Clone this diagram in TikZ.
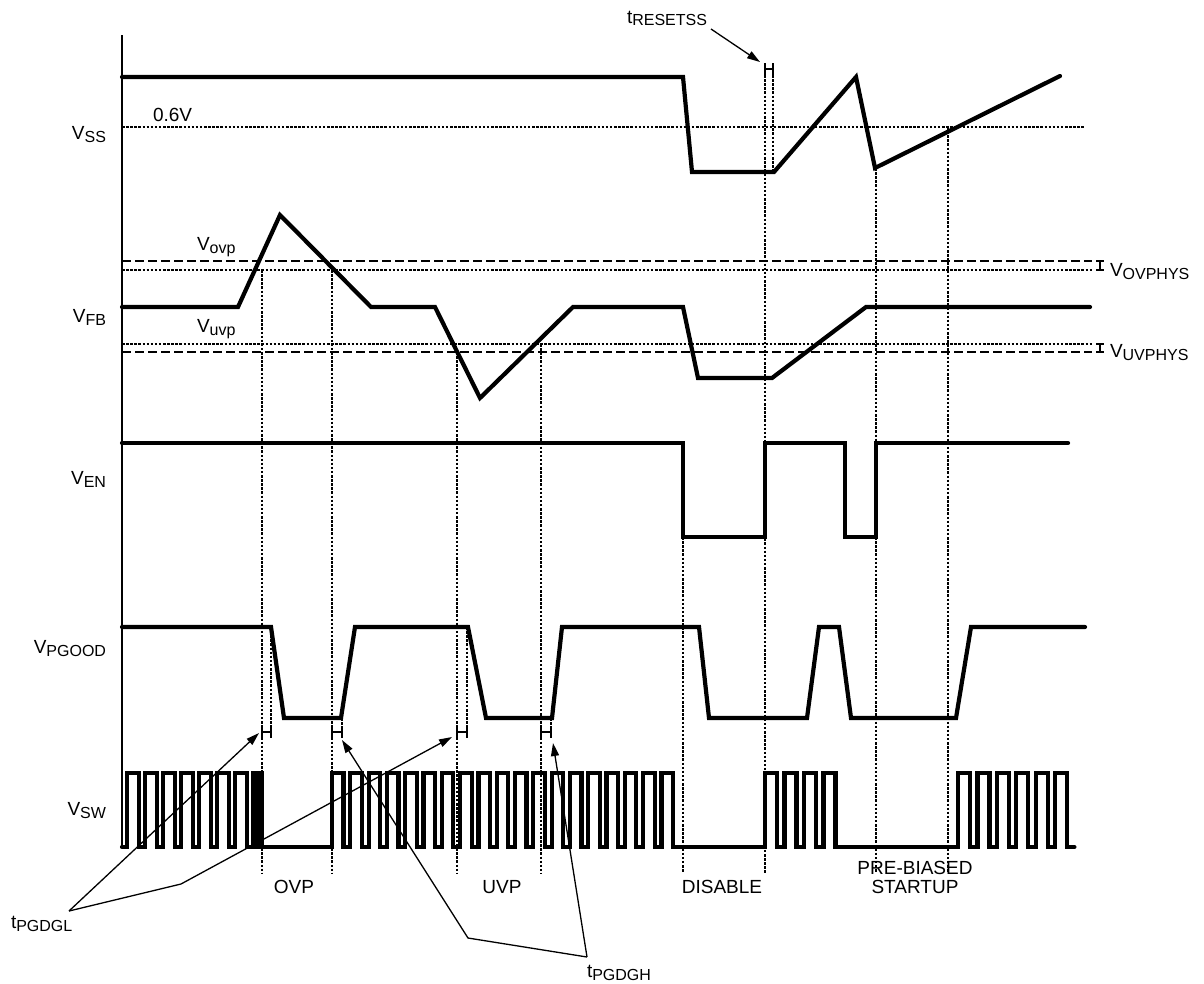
\documentclass[tikz,border=0pt]{standalone}
\usepackage{fontspec}
\setmainfont{Liberation Sans}
\usetikzlibrary{arrows.meta}
\newcommand\sig[2]{#1\raisebox{-3.5pt}{\fontsize{16}{16}\selectfont #2}}
\begin{document}
\begin{tikzpicture}[x=1pt,y=-1pt,
  every node/.style={font=\fontsize{19}{22}\selectfont, inner sep=0pt, outer sep=0pt},
  wave/.style={line width=4.2pt, line join=miter, line cap=round},
  axisline/.style={line width=2pt},
  dotline/.style={line width=1.4pt, dash pattern=on 2.5pt off 1.6pt},
  dashline/.style={line width=2pt, dash pattern=on 9pt off 4pt},
  conn/.style={line width=1.3pt, -{Triangle[length=13pt,width=8pt]}},
  leg/.style={line width=1.3pt}
]
\useasboundingbox (0,0) rectangle (1204,983);

% axis
\draw[axisline] (122,35) -- (122,848);

% signal labels
\node[anchor=base east] (lss) at (106,139) {\sig{V}{SS}};
\node[anchor=base east] (lfb) at (106,322) {\sig{V}{FB}};
\node[anchor=base east] (len) at (106,484) {\sig{V}{EN}};
\node[anchor=base east] (lpg) at (106,653) {\sig{V}{PGOOD}};
\node[anchor=base east] (lsw) at (106,815) {\sig{V}{SW}};

% threshold lines
\draw[dotline] (122,127) -- (1085,127);
\node[anchor=base west] (l06) at (153,121) {0.6V};
\draw[dashline] (122,261) -- (1092,261);
\draw[dotline] (122,270) -- (1092,270);
\draw[dotline] (122,344) -- (1092,344);
\draw[dashline] (122,352) -- (1092,352);
\node[anchor=base west] (lovp) at (197,250) {\sig{V}{ovp}};
\node[anchor=base west] (luvp) at (197,332) {\sig{V}{uvp}};

% hysteresis markers
\draw[leg] (1100,261) -- (1100,270) (1096,261) -- (1104,261) (1096,270) -- (1104,270);
\draw[leg] (1100,344) -- (1100,352) (1096,344) -- (1104,344) (1096,352) -- (1104,352);
\node[anchor=base west] (lovh) at (1110,276) {\sig{V}{OVPHYS}};
\node[anchor=base west] (luvh) at (1110,357) {\sig{V}{UVPHYS}};

% vertical dotted lines
\draw[dotline] (262,270) -- (262,873);
\draw[dotline] (332,270) -- (332,873);
\draw[dotline] (457,352) -- (457,873);
\draw[dotline] (541,344) -- (541,873);
\draw[dotline] (683,537) -- (683,873);
\draw[dotline] (765,75) -- (765,873);
\draw[dotline] (773,75) -- (773,172);
\draw[dotline] (876,168) -- (876,873);
\draw[dotline] (948,127) -- (948,873);
\draw[dotline] (271,627) -- (271,726);
\draw[dotline] (467,627) -- (467,726);
\draw[dotline] (342,718) -- (342,726);
\draw[dotline] (551,718) -- (551,726);

% waveforms
\draw[wave] (122,77) -- (683,77) -- (692,172) -- (774,172) -- (856,77) -- (875,168) -- (1060,76);
\draw[wave] (122,307) -- (238,307) -- (280,215) -- (371,307) -- (435,307) -- (480,398) -- (573,307) -- (683,307) -- (698,378) -- (772,378) -- (866,307) -- (1090,307);
\draw[wave] (122,443) -- (683,443) -- (683,537) -- (765,537) -- (765,443) -- (845,443) -- (845,537) -- (876,537) -- (876,443) -- (1068,443);
\draw[wave] (122,627) -- (271,627) -- (284,718) -- (341,718) -- (355,627) -- (468,627) -- (486,718) -- (552,718) -- (562,627) -- (699,627) -- (709,718) -- (807,718) -- (819,627) -- (839,627) -- (851,718) -- (956,718) -- (971,627) -- (1085,627);
\draw[wave] (122,847) -- (127,847)
  foreach \i in {1,...,7} { -- ++(0,-74) -- ++(12,0) -- ++(0,74) -- ++(6,0) }
  -- ++(0,-74) -- ++(3,0) -- ++(0,74) -- ++(2,0) -- ++(0,-74) -- ++(4,0) -- ++(0,74)
  -- (332,847)
  foreach \i in {1,...,19} { -- ++(0,-74) -- ++(11.5,0) -- ++(0,74) -- ++(6.8,0) }
  -- (765,847)
  foreach \i in {1,...,4} { -- ++(0,-74) -- ++(12,0) -- ++(0,74) -- ++(7.5,0) }
  -- (958,847)
  foreach \i in {1,...,6} { -- ++(0,-74) -- ++(12,0) -- ++(0,74) -- ++(7.4,0) };

% H markers
\draw[leg] (765,63) -- (765,75) (773,63) -- (773,75) (765,69) -- (773,69);
\draw[leg] (262,726) -- (262,738) (271,726) -- (271,738) (262,732) -- (271,732);
\draw[leg] (332,726) -- (332,738) (342,726) -- (342,738) (332,732) -- (342,732);
\draw[leg] (457,726) -- (457,738) (467,726) -- (467,738) (457,732) -- (467,732);
\draw[leg] (541,726) -- (541,738) (551,726) -- (551,738) (541,732) -- (551,732);

% tRESETSS
\node[anchor=base west] (trs) at (627,23) {t\raisebox{-2pt}{\fontsize{16}{16}\selectfont RESETSS}};
\coordinate (trsstart) at (711,29);
\coordinate (trstip) at (760,62);
\draw[conn] (trsstart) -- (trstip);

% bottom labels
\node[anchor=base] (ovp) at (294,893) {OVP};
\node[anchor=base] (uvp) at (502,893) {UVP};
\node[anchor=base] (dis) at (722,893) {DISABLE};
\node[anchor=base, align=center] (pre) at (915,893) {PRE-BIASED\\[-3pt]STARTUP};

% tPGDGL / tPGDGH
\node[anchor=base west] (tgl) at (11,928) {t\raisebox{-3pt}{\fontsize{16}{16}\selectfont PGDGL}};
\node[anchor=base west] (tgh) at (587,977) {t\raisebox{-3pt}{\fontsize{16}{16}\selectfont PGDGH}};
\coordinate (glapex) at (69,911);
\coordinate (glbend) at (181,884);
\coordinate (ghbend) at (468,938);
\coordinate (ghapex) at (587,957);
\coordinate (tip1) at (259,733);
\coordinate (tip2) at (452,737);
\coordinate (tip3) at (342,740);
\coordinate (tip4) at (553,743);
\draw[conn] (glapex) -- (tip1);
\draw[conn] (glapex) -- (glbend) -- (tip2);
\draw[conn] (ghapex) -- (ghbend) -- (tip3);
\draw[conn] (ghapex) -- (tip4);
\end{tikzpicture}
\end{document}
